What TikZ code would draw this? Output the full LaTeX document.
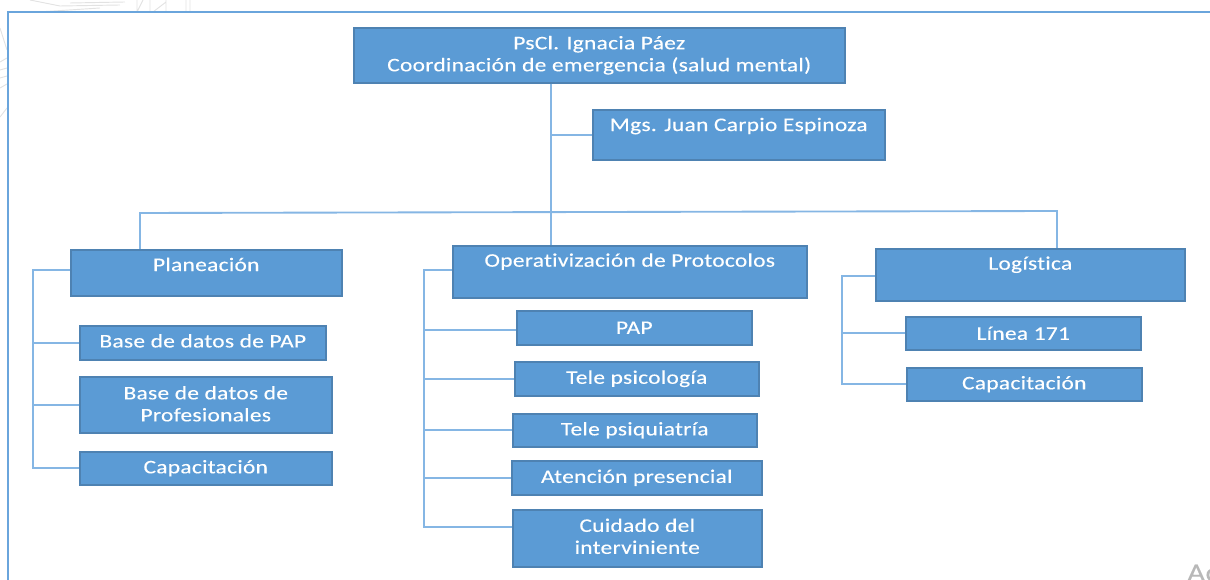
\documentclass[tikz,border=0pt]{standalone}
\usepackage{fontspec}
\setmainfont{Carlito}[FakeStretch=1.22,LetterSpace=1.5,FakeBold=0.25,Ligatures=NoCommon]
\definecolor{boxfill}{HTML}{5B9BD5}
\definecolor{boxline}{HTML}{4E82B2}
\definecolor{conn}{HTML}{85B6E4}
\definecolor{frameline}{HTML}{6AA5DC}
\definecolor{wm}{HTML}{E2E2E2}
\newcommand{\up}[2]{\raisebox{#1}[0pt][0pt]{#2}}
\newcommand{\twolines}[3]{\up{#1}{\begin{tabular}{@{}c@{}}#2\\#3\end{tabular}}}
\tikzset{
  x=0.75pt,y=-0.75pt,
  orgbox/.style={draw=boxline,line width=1.3pt,fill=boxfill,text=white,font=\fontsize{14.4pt}{16.5pt}\selectfont,align=center,inner sep=0pt,anchor=north west},
  link/.style={draw=conn,line width=1.4pt},
  wmline/.style={draw=wm,line width=.7pt}
}
\newcommand{\boxat}[6]{\node[orgbox,minimum width=#4*0.75pt-#2*0.75pt-0.9pt,minimum height=#5*0.75pt-#3*0.75pt-0.9pt] (#1) at (#2,#3) {#6};}
\begin{document}
\begin{tikzpicture}
\useasboundingbox (0,0) rectangle (1210,580);
% watermark remains
\draw[wmline] (137,12)--(143,0) (150,12)--(150,0) (153,12)--(166,2) (137,0)--(137,12) (166,0)--(166,12) (186,0)--(186,12) (190,0)--(190,12);
\draw[wmline] (0,28)--(7,50) (0,62)--(7,58) (0,70)--(7,68) (0,78)--(7,76) (0,88)--(7,84) (0,117)--(7,108);
\draw[wmline] (30,0)--(60,6)--(120,5) (38,12)--(100,8) (70,3)--(125,2);
% frame
\draw[draw=frameline,line width=1.5pt] (7.5,580)--(7.5,12.5)--(1210,12.5);
% coordinates of trunks and buses
\coordinate (trunk) at (551,0);
\coordinate (busL) at (33,270);
\coordinate (busM) at (424,270);
\coordinate (busR) at (842,276);
\coordinate (barL) at (140,213);
\coordinate (barR) at (1057,211);
% boxes
\boxat{top}{353}{27}{845}{83}{PsCl. Ignacia Páez\\Coordinación de emergencia (salud mental)}
\boxat{mgs}{592}{109}{885}{160}{\up{2.8pt}{Mgs. Juan Carpio Espinoza}}
\boxat{pla}{70}{249}{342}{296}{\up{1.3pt}{Planeación}}
\boxat{ope}{452}{245}{807}{298}{\up{3.8pt}{Operativización de Protocolos}}
\boxat{log}{875}{248}{1185}{301}{\up{3.8pt}{Logística}}
\boxat{bdp}{79}{325}{326}{360}{\up{-3.5pt}{Base de datos de PAP}}
\boxat{bdr}{79}{376}{332}{433}{\twolines{-4.5pt}{Base de datos de}{Profesionales}}
\boxat{cap}{79}{451}{332}{485}{Capacitación}
\boxat{pap}{516}{310}{752}{345}{PAP}
\boxat{psi}{514}{361}{759}{396}{Tele psicología}
\boxat{psq}{512}{413}{757}{447}{Tele psiquiatría}
\boxat{ate}{511}{460}{762}{495}{Atención presencial}
\boxat{cui}{512}{509}{762}{567}{\twolines{-3.75pt}{Cuidado del}{interviniente}}
\boxat{lin}{905}{316}{1141}{350}{Línea 171}
\boxat{cpr}{906}{367}{1142}{401}{Capacitación}
% hierarchy connectors
\draw[link] (top.south -| trunk) -- (ope.north -| trunk);
\draw[link] (trunk |- mgs.west) -- (mgs.west);
\draw[link] (pla.north -| barL) -- (barL) -- (barR) -- (log.north -| barR);
% left bus
\draw[link] (busL -| pla.west) -- (busL) -- (busL |- cap.west) -- (cap.west);
\draw[link] (busL |- bdp.west) -- (bdp.west);
\draw[link] (busL |- bdr.west) -- (bdr.west);
% middle bus
\coordinate (cuiY) at ([yshift=-13.5pt]cui.north west);
\draw[link] (busM -| ope.west) -- (busM) -- (busM |- cuiY) -- (cuiY);
\draw[link] ([yshift=-2pt]busM |- pap.west) -- ([yshift=-2pt]pap.west);
\draw[link] (busM |- psi.west) -- (psi.west);
\draw[link] (busM |- psq.west) -- (psq.west);
\draw[link] (busM |- ate.west) -- (ate.west);
% right bus
\draw[link] (busR -| log.west) -- (busR) -- (busR |- cpr.west) -- (cpr.west);
\draw[link] (busR |- lin.west) -- (lin.west);
% OS watermark fragment
\begin{scope}
\clip (0,0) rectangle (1210,580);
\node[anchor=base west,inner sep=0pt,text=black!28,font=\fontsize{19pt}{19pt}\selectfont] (act) at (1187,581) {Ac};
\end{scope}
\end{tikzpicture}
\end{document}
